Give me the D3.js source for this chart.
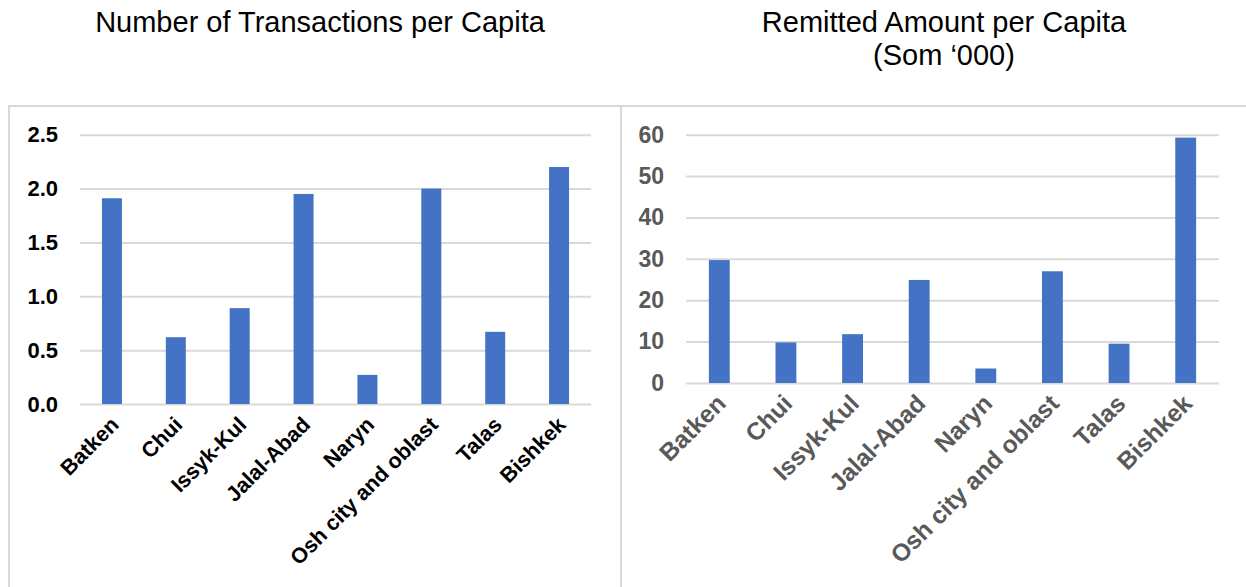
<!DOCTYPE html>
<html>
<head>
<script src="https://d3js.org/d3.v7.min.js"></script>
<style>
  body { margin: 0; background: #fff; font-family: Arial, 'Liberation Sans', sans-serif; }
  svg { display: block; }
</style>
</head>
<body>
<div id="chart"></div>
<script>
// data
var regions = ["Batken", "Chui", "Issyk-Kul", "Jalal-Abad", "Naryn", "Osh city and oblast", "Talas", "Bishkek"];
var transactions = [1.91, 0.62, 0.89, 1.95, 0.27, 2.0, 0.67, 2.2];
var remitted = [29.7, 9.8, 11.8, 24.9, 3.5, 27.0, 9.5, 59.3];
var txTicks = [0, 0.5, 1.0, 1.5, 2.0, 2.5];
var remTicks = [0, 10, 20, 30, 40, 50, 60];

var W = 1246, H = 587;
var svg = d3.select("#chart").append("svg")
    .attr("width", W)
    .attr("height", H);

var blue = "#4472c4", grid = "#d9d9d9";

////////// panel drawing //////////
function panel(opt) {
    // frame
    svg.append("rect")
        .attr("x", opt.box[0]).attr("y", opt.box[1])
        .attr("width", opt.box[2]).attr("height", opt.box[3])
        .attr("fill", "none")
        .attr("stroke", grid)
        .attr("stroke-width", 2);

    // title
    var t = svg.append("text")
        .attr("text-anchor", "middle")
        .attr("font-size", 29)
        .attr("fill", "#000");
    opt.title.forEach(function(line, i) {
        t.append("tspan")
            .attr("x", opt.titleX)
            .attr("y", 32 + i * 33)
            .text(line);
    });

    var x = d3.scaleBand()
        .domain(regions)
        .range(opt.xr)
        .paddingInner(0.687)
        .paddingOuter(0.3435);

    var y = d3.scaleLinear()
        .domain(opt.yd)
        .range(opt.yr);

    // gridlines + tick labels
    var yAxis = d3.axisLeft(y)
        .tickValues(opt.ticks)
        .tickSize(-(opt.xr[1] - opt.xr[0]))
        .tickPadding(22)
        .tickFormat(opt.fmt);

    var gy = svg.append("g")
        .attr("transform", "translate(" + opt.xr[0] + ",0)")
        .call(yAxis);
    gy.select(".domain").remove();
    gy.selectAll("line")
        .attr("stroke", grid)
        .attr("stroke-width", 2);
    gy.selectAll("text")
        .attr("font-family", "Arial, 'Liberation Sans', sans-serif")
        .attr("font-size", opt.tickSize)
        .attr("font-weight", "bold")
        .attr("fill", opt.textColor);

    // bars
    svg.append("g").selectAll("rect")
        .data(opt.values)
        .enter().append("rect")
        .attr("x", function(d, i) { return x(regions[i]); })
        .attr("y", function(d) { return y(d); })
        .attr("width", x.bandwidth())
        .attr("height", function(d) { return y(0) - y(d); })
        .attr("fill", blue);

    // category labels
    svg.append("g").selectAll("text")
        .data(regions)
        .enter().append("text")
        .attr("text-anchor", "end")
        .attr("font-size", opt.labelSize)
        .attr("font-weight", "bold")
        .attr("fill", opt.textColor)
        .attr("transform", function(d) {
            var cx = x(d) + x.bandwidth() / 2 + 8;
            return "translate(" + cx + "," + (opt.yr[0] + 22) + ")rotate(-45)";
        })
        .text(function(d) { return d; });
}

panel({
    box: [9, 106, 612, 500],
    title: ["Number of Transactions per Capita"],
    titleX: 320,
    xr: [80, 591],
    yd: [0, 2.5],
    yr: [404, 134.7],
    ticks: txTicks,
    fmt: d3.format(".1f"),
    values: transactions,
    textColor: "#000",
    tickSize: 22,
    labelSize: 21.5
});

panel({
    box: [621, 106, 640, 500],
    title: ["Remitted Amount per Capita", "(Som \u2018000)"],
    titleX: 944,
    xr: [686, 1219],
    yd: [0, 60],
    yr: [383, 134.7],
    ticks: remTicks,
    fmt: d3.format("d"),
    values: remitted,
    textColor: "#595959",
    tickSize: 23,
    labelSize: 24.5
});
</script>
</body>
</html>
